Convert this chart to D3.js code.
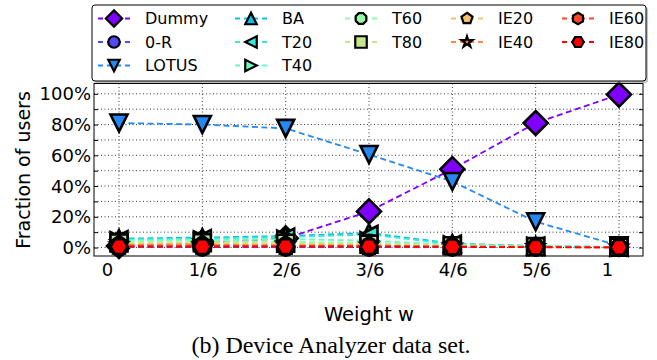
<!DOCTYPE html>
<html><head><meta charset="utf-8">
<script src="https://cdn.jsdelivr.net/npm/d3@7"></script>
<style>body{margin:0;background:#fff}svg{display:block}</style>
</head><body>
<svg id="c" width="657" height="360"></svg>
<script>
const weights = [0, 1/6, 2/6, 3/6, 4/6, 5/6, 1];
const xTickLabels = ["0", "1/6", "2/6", "3/6", "4/6", "5/6", "1"];
const yTicks = [0, 20, 40, 60, 80, 100];
const yMinorTicks = [0, 10, 20, 30, 40, 50, 60, 70, 80, 90, 100];
const seriesNames = ["Dummy", "0-R", "LOTUS", "BA", "T20", "T40", "T60", "T80", "IE20", "IE40", "IE60", "IE80"];
const dummy = [1, 3, 6, 23.5, 51, 81, 99.5];
const zeroR = [0.3, 0.3, 0.3, 0.3, 0.3, 0.3, 0.3];
const lotus = [81, 80, 77.5, 60.5, 43, 16.8, 1.2];
const ba   = [5.8, 6.5, 7.5, 9.5, 2.6, 1.0, 0.3];
const t20  = [5.2, 5.8, 6.8, 8.5, 2.2, 0.9, 0.3];
const t40  = [4.5, 5.0, 5.5, 4.5, 1.8, 0.8, 0.3];
const t60  = [4.0, 4.5, 3.8, 3.0, 1.5, 0.7, 0.2];
const t80  = [3.0, 3.2, 2.8, 2.2, 1.2, 0.6, 0.2];
const ie20 = [2.2, 2.2, 2.0, 1.6, 1.0, 0.5, 0.2];
const ie40 = [1.6, 1.6, 1.5, 1.3, 0.8, 0.4, 0.1];
const ie60 = [1.2, 1.2, 1.1, 1.0, 0.6, 0.3, 0.1];
const ie80 = [0.6, 0.6, 0.6, 0.6, 0.4, 0.2, 0.1];
const seriesValues = [dummy, zeroR, lotus, ba, t20, t40, t60, t80, ie20, ie40, ie60, ie80];
const markerTypes = ["D", "o", "v", "^", "<", ">", "8", "s", "p", "*", "h", "H"];

const svg = d3.select("#c");
const L = 94, R = 643, T = 83.5, B = 256;
const x = d3.scaleLinear().domain([-0.05, 1.048]).range([L, R]);
const y = d3.scaleLinear().domain([-5.5, 106.7]).range([B, T]);

function rainbow(t) {
  const r = Math.min(1, Math.abs(2 * t - 0.5));
  const g = Math.sin(Math.PI * t);
  const b = Math.max(0, Math.cos(Math.PI * t / 2));
  return d3.rgb(r * 255, g * 255, b * 255).formatHex();
}
const colors = seriesNames.map((d, i) => rainbow(i / (seriesNames.length - 1)));

function poly(n, r, rot) {
  const pts = [];
  for (let k = 0; k < n; k++) {
    const a = rot + k * 2 * Math.PI / n;
    pts.push([r * Math.sin(a), -r * Math.cos(a)]);
  }
  return "M" + pts.map(p => p[0].toFixed(2) + "," + p[1].toFixed(2)).join("L") + "Z";
}
function markerPath(type, s) {
  const h = s / 2;
  switch (type) {
    case "D": { const q = s / Math.SQRT2; return `M0,${-q}L${q},0L0,${q}L${-q},0Z`; }
    case "o": return d3.arc()({innerRadius: 0, outerRadius: h, startAngle: 0, endAngle: 2 * Math.PI}) + "Z";
    case "v": return `M0,${h}L${-h},${-h}L${h},${-h}Z`;
    case "^": return `M0,${-h}L${-h},${h}L${h},${h}Z`;
    case "<": return `M${-h},0L${h},${-h}L${h},${h}Z`;
    case ">": return `M${h},0L${-h},${-h}L${-h},${h}Z`;
    case "8": return poly(8, h, Math.PI / 8);
    case "s": return `M${-h},${-h}L${h},${-h}L${h},${h}L${-h},${h}Z`;
    case "p": return poly(5, h, 0);
    case "*": {
      const pts = [];
      for (let k = 0; k < 10; k++) {
        const rr = k % 2 ? h * 0.381966 : h;
        const a = k * Math.PI / 5;
        pts.push([rr * Math.sin(a), -rr * Math.cos(a)]);
      }
      return "M" + pts.map(p => p[0].toFixed(2) + "," + p[1].toFixed(2)).join("L") + "Z";
    }
    case "h": return poly(6, h, 0);
    case "H": return poly(6, h, Math.PI / 6);
  }
}

// grid
const grid = svg.append("g").attr("stroke", "#222").attr("stroke-width", 0.9).attr("stroke-dasharray", "1,2.5");
grid.selectAll("line.gy").data(yMinorTicks).join("line")
  .attr("x1", L).attr("x2", R).attr("y1", d => y(d)).attr("y2", d => y(d));
grid.selectAll("line.gx").data(weights).join("line")
  .attr("y1", T).attr("y2", B).attr("x1", d => x(d)).attr("x2", d => x(d));

// axes with inward ticks
const axL = svg.append("g").attr("transform", `translate(${L},0)`)
  .call(d3.axisRight(y).tickValues(yMinorTicks).tickSize(4).tickFormat(""));
const axR = svg.append("g").attr("transform", `translate(${R},0)`)
  .call(d3.axisLeft(y).tickValues(yMinorTicks).tickSize(4).tickFormat(""));
const axB = svg.append("g").attr("transform", `translate(0,${B})`)
  .call(d3.axisTop(x).tickValues(weights).tickSize(4).tickFormat(""));
[axL, axR, axB].forEach(a => { a.select(".domain").remove(); a.selectAll("line").attr("stroke", "#000"); });

// y labels
svg.append("g").selectAll("text").data(yTicks).join("text")
  .attr("x", 91).attr("y", d => y(d) + 6.5).attr("text-anchor", "end")
  .attr("font-family", "DejaVu Sans").attr("font-size", 18).text(d => d + "%");
// x labels
svg.append("g").selectAll("text").data(weights).join("text")
  .attr("x", (d, i) => x(d) + (i === 0 || i === weights.length - 1 ? -11.5 : 1))
  .attr("y", 276).attr("text-anchor", "middle")
  .attr("font-family", "DejaVu Sans").attr("font-size", 18).text((d, i) => xTickLabels[i]);

// series
const clip = svg.append("clipPath").attr("id", "pc").append("rect")
  .attr("x", L).attr("y", T).attr("width", R - L).attr("height", B - T);
const line = d3.line().x((d, i) => x(weights[i])).y(d => y(d));
const plot = svg.append("g");
seriesValues.forEach((vals, si) => {
  plot.append("path").attr("d", line(vals)).attr("fill", "none")
    .attr("stroke", colors[si]).attr("stroke-width", 1.8).attr("stroke-dasharray", "6,3.5")
    .attr("clip-path", "url(#pc)");
  plot.append("g").selectAll("path").data(vals).join("path")
    .attr("transform", (d, i) => `translate(${x(weights[i])},${y(d)})`)
    .attr("d", markerPath(markerTypes[si], 17))
    .attr("fill", colors[si]).attr("stroke", "#000").attr("stroke-width", 2.6)
    .attr("stroke-linejoin", "miter");
});

// frame
svg.append("rect").attr("x", L).attr("y", T).attr("width", R - L).attr("height", B - T)
  .attr("fill", "none").attr("stroke", "#000").attr("stroke-width", 1);

// legend
const lg = svg.append("g");
lg.append("rect").attr("x", 94).attr("y", 7).attr("width", 554).attr("height", 76)
  .attr("rx", 3).attr("fill", "#999").attr("opacity", 0.6);
lg.append("rect").attr("x", 92).attr("y", 5).attr("width", 554).attr("height", 76)
  .attr("rx", 3).attr("fill", "#fff").attr("stroke", "#000").attr("stroke-width", 1);
const colMarkerX = [114, 251, 361, 467, 578];
const rowY = [18.5, 42, 65.5];
const perCol = [3, 3, 2, 2, 2];
let idx = 0;
perCol.forEach((n, c) => {
  for (let r = 0; r < n; r++, idx++) {
    const mx = colMarkerX[c], my = rowY[r];
    lg.append("line").attr("x1", mx - 17).attr("x2", mx + 17).attr("y1", my).attr("y2", my)
      .attr("stroke", colors[idx]).attr("stroke-width", 1.8).attr("stroke-dasharray", "5,4")
      .attr("stroke-dashoffset", -1);
    lg.append("path").attr("transform", `translate(${mx},${my})`)
      .attr("d", markerPath(markerTypes[idx], 11.5))
      .attr("fill", colors[idx]).attr("stroke", "#000").attr("stroke-width", 2.2);
    lg.append("text").attr("x", mx + 31).attr("y", my + 5.8)
      .attr("font-family", "DejaVu Sans").attr("font-size", 16).text(seriesNames[idx]);
  }
});

// axis titles
svg.append("text").attr("transform", "translate(30,170) rotate(-90)").attr("text-anchor", "middle")
  .attr("font-family", "DejaVu Sans").attr("font-size", 19).text("Fraction of users");
svg.append("text").attr("x", 369).attr("y", 321).attr("text-anchor", "middle")
  .attr("font-family", "DejaVu Sans").attr("font-size", 19.5).text("Weight w");
svg.append("text").attr("x", 331).attr("y", 353).attr("text-anchor", "middle")
  .attr("font-family", "Liberation Serif").attr("font-size", 24).text("(b) Device Analyzer data set.");
</script>
</body></html>
